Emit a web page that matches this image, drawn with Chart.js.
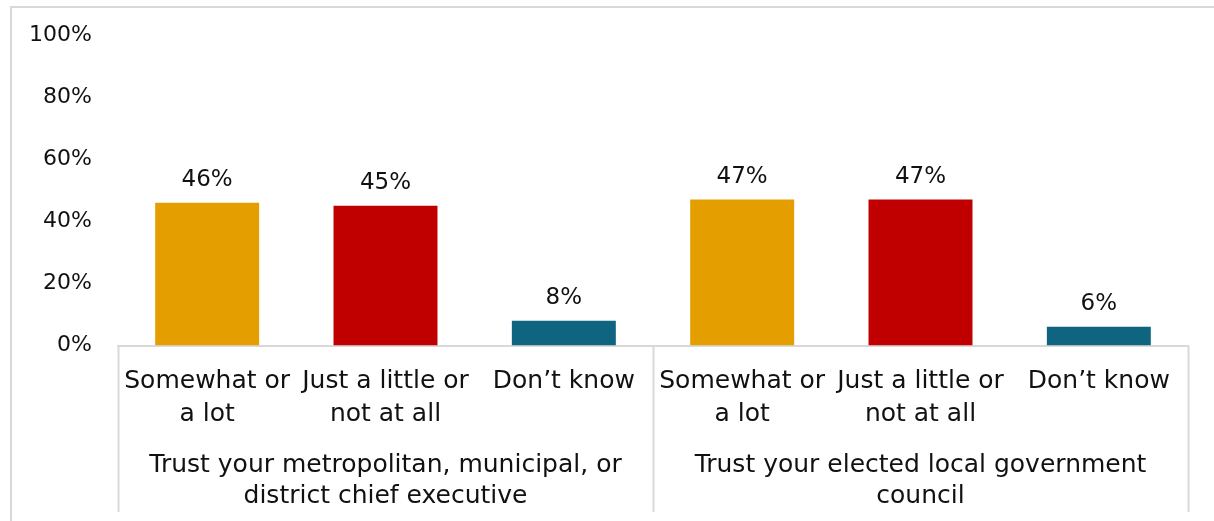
<!DOCTYPE html>
<html>
<head>
<meta charset="utf-8">
<title>Trust in local government</title>
<script src="https://cdn.jsdelivr.net/npm/chart.js@4/dist/chart.umd.min.js"></script>
<style>
  html, body { margin: 0; padding: 0; background: #fff; overflow: hidden; }
  body { width: 1214px; height: 521px; position: relative; }
  #frame {
    position: absolute; left: 10px; top: 6px;
    width: 1400px; height: 700px;
    border: 2px solid #d9d9d9; box-sizing: border-box;
  }
  #chart { position: absolute; left: 0; top: 0; }
</style>
</head>
<body>
<div id="frame"></div>
<canvas id="chart" width="1214" height="521"></canvas>
<script>
// Answer options, shown under each bar (one per question group)
const answerLabels = [
  ["Somewhat or", "a lot"], ["Just a little or", "not at all"], ["Don\u2019t know"],
  ["Somewhat or", "a lot"], ["Just a little or", "not at all"], ["Don\u2019t know"]
];
// Question groups, shown on the second label row
const questionLabels = [
  ["Trust your metropolitan, municipal, or", "district chief executive"],
  ["Trust your elected local government", "council"]
];
// Percent of respondents per answer
const shareValues = [46, 45, 8, 47, 47, 6];
const barColors = ["#E59E00", "#C00000", "#0F6480", "#E59E00", "#C00000", "#0F6480"];
const yTicks = [0, 20, 40, 60, 80, 100];

const FONT = "DejaVu Sans";
const TEXT = "#111111";
const RULE = "#d9d9d9";

// Values written above each bar
const valueLabels = {
  id: "valueLabels",
  afterDatasetsDraw(chart) {
    const ctx = chart.ctx;
    const meta = chart.getDatasetMeta(0);
    ctx.save();
    ctx.font = "23px '" + FONT + "'";
    ctx.fillStyle = TEXT;
    ctx.textAlign = "center";
    ctx.textBaseline = "alphabetic";
    meta.data.forEach((bar, i) => {
      ctx.fillText(shareValues[i] + "%", bar.x, bar.y - 17);
    });
    ctx.restore();
  }
};

// Vertical rules that box the two question groups below the axis
const groupRules = {
  id: "groupRules",
  afterDraw(chart) {
    const x = chart.scales.x;
    const ctx = chart.ctx;
    const per = answerLabels.length / questionLabels.length;
    const xs = [x.left];
    for (let g = 1; g < questionLabels.length; g++) {
      xs.push((x.getPixelForValue(g * per - 1) + x.getPixelForValue(g * per)) / 2);
    }
    xs.push(x.right);
    ctx.save();
    ctx.strokeStyle = RULE;
    ctx.lineWidth = 2;
    xs.forEach(px => {
      const p = Math.round(px) + 0.5;
      ctx.beginPath();
      ctx.moveTo(p, chart.chartArea.bottom);
      ctx.lineTo(p, 512);
      ctx.stroke();
    });
    ctx.restore();
  }
};

new Chart(document.getElementById("chart"), {
  type: "bar",
  data: {
    labels: answerLabels,
    datasets: [{
      data: shareValues,
      backgroundColor: barColors,
      borderWidth: 0,
      categoryPercentage: 1.0,
      barPercentage: 0.583
    }]
  },
  options: {
    responsive: false,
    animation: false,
    devicePixelRatio: 1,
    layout: { padding: { top: 35, right: 26, left: 0, bottom: 0 } },
    plugins: {
      legend: { display: false },
      tooltip: { enabled: false }
    },
    scales: {
      y: {
        min: 0, max: 100,
        afterBuildTicks: s => { s.ticks = yTicks.map(v => ({ value: v })); },
        afterFit: s => { s.width = 118; s.paddingTop = 0; s.paddingBottom = 0; },
        ticks: {
          padding: 26,
          color: TEXT,
          font: { family: FONT, size: 22 },
          callback: v => v + "%"
        },
        grid: { display: false, drawTicks: false },
        border: { display: false }
      },
      x: {
        weight: 0,
        afterFit: s => { s.height = 90; },
        ticks: {
          padding: 19,
          autoSkip: false,
          maxRotation: 0,
          color: TEXT,
          font: { family: FONT, size: 25, lineHeight: 1.32 }
        },
        grid: { display: false, drawTicks: false },
        border: { display: true, color: RULE, width: 2 }
      },
      x2: {
        type: "category",
        position: "bottom",
        weight: 1,
        labels: questionLabels,
        offset: true,
        afterFit: s => { s.height = 85.5; },
        ticks: {
          padding: 14,
          autoSkip: false,
          maxRotation: 0,
          color: TEXT,
          font: { family: FONT, size: 25, lineHeight: 1.25 }
        },
        grid: { display: false, drawTicks: false },
        border: { display: false }
      }
    }
  },
  plugins: [valueLabels, groupRules]
});
</script>
</body>
</html>
